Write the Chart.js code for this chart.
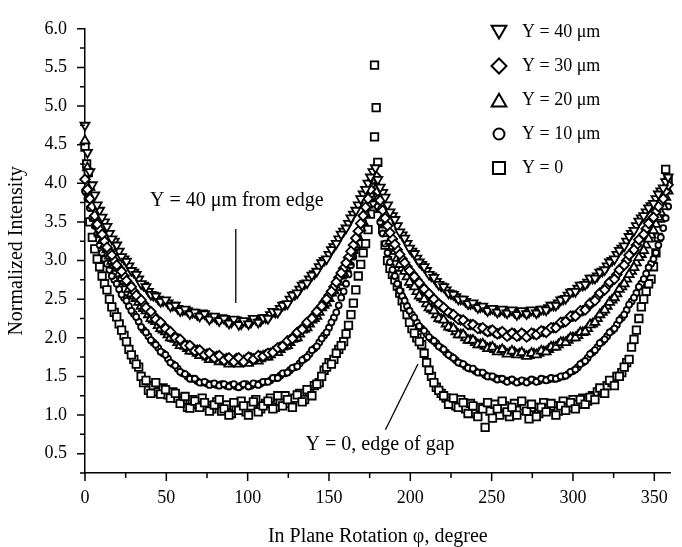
<!DOCTYPE html>
<html>
<head>
<meta charset="utf-8">
<script src="https://cdn.jsdelivr.net/npm/chart.js@4.4.0/dist/chart.umd.min.js"></script>
<style>
  html, body { margin: 0; padding: 0; background: #fff; }
</style>
</head>
<body>
<canvas id="chart" width="682" height="547"></canvas>
<script>
// rotation angle, degree: main grid and the in-between readings
const phi = [
  0, 3, 6, 9, 12, 15, 18, 21, 24, 27,
  30, 33, 36, 39, 42, 45, 48, 51, 54, 57,
  60, 63, 66, 69, 72, 75, 78, 81, 84, 87,
  90, 93, 96, 99, 102, 105, 108, 111, 114, 117,
  120, 123, 126, 129, 132, 135, 138, 141, 144, 147,
  150, 153, 156, 159, 162, 165, 168, 171, 174, 177,
  180, 183, 186, 189, 192, 195, 198, 201, 204, 207,
  210, 213, 216, 219, 222, 225, 228, 231, 234, 237,
  240, 243, 246, 249, 252, 255, 258, 261, 264, 267,
  270, 273, 276, 279, 282, 285, 288, 291, 294, 297,
  300, 303, 306, 309, 312, 315, 318, 321, 324, 327,
  330, 333, 336, 339, 342, 345, 348, 351, 354, 357
];
const phiMid = [
  1.5, 4.5, 7.5, 10.5, 13.5, 16.5, 19.5, 22.5, 25.5, 28.5,
  31.5, 34.5, 37.5, 40.5, 43.5, 46.5, 49.5, 52.5, 55.5, 58.5,
  61.5, 64.5, 67.5, 70.5, 73.5, 76.5, 79.5, 82.5, 85.5, 88.5,
  91.5, 94.5, 97.5, 100.5, 103.5, 106.5, 109.5, 112.5, 115.5, 118.5,
  121.5, 124.5, 127.5, 130.5, 133.5, 136.5, 139.5, 142.5, 145.5, 148.5,
  151.5, 154.5, 157.5, 160.5, 163.5, 166.5, 169.5, 172.5, 175.5, 178.5,
  181.5, 184.5, 187.5, 190.5, 193.5, 196.5, 199.5, 202.5, 205.5, 208.5,
  211.5, 214.5, 217.5, 220.5, 223.5, 226.5, 229.5, 232.5, 235.5, 238.5,
  241.5, 244.5, 247.5, 250.5, 253.5, 256.5, 259.5, 262.5, 265.5, 268.5,
  271.5, 274.5, 277.5, 280.5, 283.5, 286.5, 289.5, 292.5, 295.5, 298.5,
  301.5, 304.5, 307.5, 310.5, 313.5, 316.5, 319.5, 322.5, 325.5, 328.5,
  331.5, 334.5, 337.5, 340.5, 343.5, 346.5, 349.5, 352.5, 355.5, 358.5
];

// Y = 40 um
const y40 = [
  4.75, 4.15, 3.85, 3.65, 3.5, 3.35, 3.25, 3.12, 3.02, 2.93,
  2.85, 2.76, 2.68, 2.6, 2.55, 2.5, 2.48, 2.45, 2.42, 2.38,
  2.36, 2.35, 2.33, 2.3, 2.32, 2.28, 2.27, 2.25, 2.26, 2.22,
  2.2, 2.23, 2.18, 2.21, 2.2, 2.24, 2.22, 2.26, 2.3, 2.33,
  2.38, 2.43, 2.5, 2.56, 2.63, 2.7, 2.76, 2.83, 2.92, 3.0,
  3.08, 3.18, 3.28, 3.38, 3.48, 3.6, 3.72, 3.86, 4.0, 4.15,
  4.05, 3.88, 3.72, 3.58, 3.45, 3.33, 3.22, 3.12, 3.03, 2.95,
  2.87, 2.8, 2.73, 2.67, 2.62, 2.57, 2.53, 2.5, 2.47, 2.44,
  2.42, 2.4, 2.38, 2.37, 2.36, 2.35, 2.34, 2.35, 2.33, 2.32,
  2.34, 2.33, 2.35, 2.34, 2.37, 2.39, 2.42, 2.45, 2.5, 2.55,
  2.6, 2.64, 2.68, 2.72, 2.77, 2.8, 2.86, 2.93, 3.0, 3.08,
  3.16, 3.25, 3.35, 3.45, 3.55, 3.63, 3.71, 3.8, 3.9, 4.02
];
const y40Mid = [
  4.4, 3.98, 3.72, 3.56, 3.44, 3.28, 3.2, 3.05, 2.99, 2.87,
  2.82, 2.7, 2.66, 2.56, 2.54, 2.47, 2.49, 2.41, 2.42, 2.35,
  2.37, 2.31, 2.33, 2.28, 2.31, 2.24, 2.28, 2.22, 2.25, 2.19,
  2.24, 2.17, 2.22, 2.18, 2.25, 2.2, 2.26, 2.25, 2.34, 2.33,
  2.42, 2.44, 2.55, 2.58, 2.68, 2.71, 2.81, 2.86, 2.97, 3.02,
  3.14, 3.22, 3.34, 3.42, 3.55, 3.65, 3.8, 3.92, 4.08, 4.2,
  3.95, 3.82, 3.63, 3.53, 3.37, 3.29, 3.16, 3.09, 2.98, 2.92,
  2.82, 2.78, 2.69, 2.66, 2.58, 2.56, 2.5, 2.5, 2.44, 2.45,
  2.39, 2.41, 2.35, 2.38, 2.33, 2.37, 2.32, 2.36, 2.3, 2.35,
  2.31, 2.36, 2.32, 2.37, 2.36, 2.42, 2.42, 2.49, 2.51, 2.59,
  2.6, 2.68, 2.69, 2.77, 2.77, 2.85, 2.88, 2.98, 3.02, 3.13,
  3.19, 3.31, 3.39, 3.51, 3.58, 3.68, 3.74, 3.86, 3.94, 4.08
];

// Y = 30 um
const y30 = [
  4.05, 3.8, 3.58, 3.4, 3.25, 3.12, 3.0, 2.9, 2.8, 2.7,
  2.6, 2.52, 2.44, 2.36, 2.29, 2.22, 2.16, 2.1, 2.04, 1.99,
  1.94, 1.9, 1.87, 1.84, 1.81, 1.79, 1.77, 1.76, 1.74, 1.73,
  1.71, 1.73, 1.7, 1.72, 1.74, 1.73, 1.76, 1.78, 1.8, 1.84,
  1.88, 1.92, 1.97, 2.03, 2.09, 2.15, 2.22, 2.29, 2.37, 2.46,
  2.55, 2.66, 2.78, 2.9, 3.04, 3.2, 3.38, 3.58, 3.8, 4.05,
  3.9, 3.65, 3.45, 3.28, 3.14, 3.02, 2.92, 2.83, 2.75, 2.67,
  2.6, 2.53, 2.47, 2.41, 2.36, 2.31, 2.27, 2.23, 2.2, 2.17,
  2.15, 2.12, 2.1, 2.09, 2.07, 2.06, 2.05, 2.04, 2.05, 2.03,
  2.04, 2.03, 2.05, 2.06, 2.08, 2.1, 2.13, 2.16, 2.2, 2.24,
  2.28, 2.31, 2.35, 2.4, 2.46, 2.53, 2.6, 2.67, 2.74, 2.82,
  2.91, 3.0, 3.1, 3.2, 3.3, 3.41, 3.52, 3.63, 3.75, 3.9
];
const y30Mid = [
  3.92, 3.7, 3.47, 3.34, 3.17, 3.07, 2.94, 2.86, 2.74, 2.66,
  2.55, 2.49, 2.39, 2.34, 2.24, 2.2, 2.12, 2.08, 2.0, 1.98,
  1.9, 1.9, 1.83, 1.84, 1.78, 1.8, 1.74, 1.77, 1.71, 1.74,
  1.69, 1.74, 1.69, 1.75, 1.72, 1.77, 1.76, 1.8, 1.81, 1.87,
  1.89, 1.96, 1.99, 2.07, 2.11, 2.2, 2.25, 2.34, 2.41, 2.5,
  2.6, 2.72, 2.84, 2.97, 3.12, 3.29, 3.48, 3.69, 3.92, 4.1,
  3.78, 3.55, 3.36, 3.21, 3.08, 2.97, 2.87, 2.79, 2.71, 2.63,
  2.57, 2.5, 2.44, 2.39, 2.33, 2.3, 2.24, 2.23, 2.17, 2.17,
  2.12, 2.13, 2.08, 2.1, 2.05, 2.08, 2.02, 2.06, 2.02, 2.06,
  2.01, 2.06, 2.04, 2.09, 2.07, 2.13, 2.13, 2.2, 2.21, 2.28,
  2.28, 2.35, 2.36, 2.45, 2.48, 2.58, 2.62, 2.72, 2.76, 2.88,
  2.94, 3.07, 3.14, 3.27, 3.34, 3.48, 3.56, 3.7, 3.8, 3.98
];

// Y = 20 um
const y20 = [
  4.55, 3.95, 3.55, 3.35, 3.2, 3.06, 2.94, 2.83, 2.73, 2.63,
  2.54, 2.46, 2.38, 2.3, 2.23, 2.16, 2.1, 2.04, 1.99, 1.94,
  1.9, 1.86, 1.83, 1.8, 1.77, 1.75, 1.73, 1.72, 1.7, 1.69,
  1.68, 1.67, 1.69, 1.68, 1.7, 1.71, 1.73, 1.75, 1.78, 1.81,
  1.85, 1.89, 1.94, 1.99, 2.05, 2.11, 2.18, 2.25, 2.33, 2.42,
  2.51, 2.61, 2.72, 2.84, 2.98, 3.13, 3.3, 3.5, 3.72, 3.98,
  3.8, 3.55, 3.35, 3.18, 3.03, 2.9, 2.79, 2.69, 2.6, 2.52,
  2.44, 2.37, 2.3, 2.24, 2.18, 2.13, 2.08, 2.04, 2.0, 1.97,
  1.94, 1.91, 1.89, 1.87, 1.85, 1.83, 1.82, 1.8, 1.81, 1.79,
  1.78, 1.77, 1.79, 1.8, 1.82, 1.85, 1.88, 1.91, 1.94, 1.97,
  2.0, 2.03, 2.07, 2.12, 2.18, 2.25, 2.33, 2.41, 2.49, 2.57,
  2.66, 2.76, 2.86, 2.97, 3.08, 3.2, 3.33, 3.47, 3.62, 3.82
];
const y20Mid = [
  4.2, 3.73, 3.46, 3.26, 3.14, 2.99, 2.9, 2.77, 2.7, 2.57,
  2.51, 2.41, 2.35, 2.25, 2.21, 2.12, 2.08, 2.0, 1.98, 1.9,
  1.89, 1.83, 1.83, 1.77, 1.77, 1.72, 1.74, 1.69, 1.71, 1.66,
  1.69, 1.66, 1.7, 1.67, 1.72, 1.7, 1.76, 1.75, 1.81, 1.81,
  1.88, 1.9, 1.98, 2.0, 2.1, 2.13, 2.23, 2.28, 2.39, 2.45,
  2.58, 2.65, 2.8, 2.9, 3.07, 3.2, 3.42, 3.6, 3.86, 3.92,
  3.66, 3.46, 3.25, 3.12, 2.95, 2.86, 2.72, 2.66, 2.54, 2.5,
  2.39, 2.35, 2.25, 2.23, 2.14, 2.12, 2.04, 2.04, 1.97, 1.97,
  1.91, 1.92, 1.86, 1.88, 1.82, 1.85, 1.79, 1.83, 1.78, 1.81,
  1.76, 1.8, 1.78, 1.83, 1.82, 1.88, 1.88, 1.94, 1.94, 2.0,
  2.0, 2.07, 2.08, 2.17, 2.2, 2.3, 2.36, 2.46, 2.52, 2.63,
  2.7, 2.82, 2.91, 3.04, 3.13, 3.28, 3.39, 3.56, 3.7, 3.9
];

// Y = 10 um
const y10 = [
  3.9, 3.68, 3.45, 3.2, 3.02, 2.88, 2.75, 2.63, 2.52, 2.41,
  2.31, 2.21, 2.1, 2.02, 1.94, 1.87, 1.8, 1.73, 1.66, 1.6,
  1.54, 1.5, 1.47, 1.44, 1.42, 1.41, 1.4, 1.39, 1.4, 1.38,
  1.39, 1.37, 1.38, 1.4, 1.38, 1.4, 1.41, 1.43, 1.45, 1.48,
  1.51, 1.54, 1.58, 1.62, 1.67, 1.73, 1.79, 1.86, 1.94, 2.03,
  2.13, 2.26, 2.42, 2.6, 2.82, 3.05, 3.3, 3.5, 3.7, 3.88,
  3.7, 3.35, 3.1, 2.88, 2.7, 2.54, 2.41, 2.3, 2.2, 2.12,
  2.05, 1.98, 1.93, 1.87, 1.81, 1.76, 1.71, 1.67, 1.63, 1.6,
  1.57, 1.55, 1.52, 1.5, 1.48, 1.47, 1.45, 1.45, 1.44, 1.43,
  1.44, 1.44, 1.45, 1.44, 1.46, 1.46, 1.47, 1.48, 1.5, 1.53,
  1.57, 1.62, 1.68, 1.74, 1.81, 1.88, 1.95, 2.02, 2.09, 2.17,
  2.26, 2.36, 2.47, 2.58, 2.7, 2.83, 2.96, 3.1, 3.3, 3.55
];
const y10Mid = [
  3.8, 3.55, 3.34, 3.1, 2.96, 2.8, 2.7, 2.56, 2.48, 2.35,
  2.27, 2.14, 2.07, 1.97, 1.91, 1.82, 1.78, 1.68, 1.64, 1.56,
  1.53, 1.47, 1.47, 1.42, 1.43, 1.39, 1.41, 1.38, 1.4, 1.37,
  1.4, 1.36, 1.4, 1.37, 1.41, 1.39, 1.43, 1.43, 1.48, 1.48,
  1.54, 1.55, 1.61, 1.63, 1.71, 1.75, 1.84, 1.89, 1.99, 2.07,
  2.2, 2.33, 2.52, 2.7, 2.94, 3.17, 3.41, 3.62, 3.8, 3.82,
  3.5, 3.22, 2.98, 2.8, 2.61, 2.48, 2.35, 2.26, 2.15, 2.09,
  2.01, 1.96, 1.89, 1.85, 1.78, 1.74, 1.68, 1.66, 1.61, 1.6,
  1.55, 1.55, 1.5, 1.5, 1.46, 1.47, 1.43, 1.46, 1.42, 1.45,
  1.42, 1.46, 1.43, 1.47, 1.45, 1.48, 1.47, 1.5, 1.51, 1.56,
  1.59, 1.66, 1.7, 1.79, 1.84, 1.93, 1.98, 2.07, 2.12, 2.23,
  2.3, 2.43, 2.52, 2.66, 2.76, 2.91, 3.02, 3.2, 3.42, 3.7
];

// Y = 0
const y0 = [
  4.47, 3.5, 3.15, 2.92, 2.7, 2.5, 2.33, 2.18, 2.03, 1.85,
  1.72, 1.62, 1.42, 1.32, 1.38, 1.3, 1.35, 1.26, 1.3, 1.22,
  1.18, 1.1, 1.2, 1.14, 1.22, 1.12, 1.08, 1.17, 1.05, 1.13,
  1.02, 1.1, 1.18, 1.04, 1.12, 1.2, 1.08, 1.15, 1.22, 1.1,
  1.18, 1.25, 1.15, 1.22, 1.28, 1.2, 1.3, 1.38, 1.42, 1.58,
  1.68, 1.72, 1.85, 1.95, 2.16, 2.45, 2.8, 3.1, 3.4, 3.75,
  4.27, 3.4, 3.0, 2.82, 2.67, 2.48, 2.3, 2.12, 2.0, 1.91,
  1.68, 1.5, 1.36, 1.28, 1.22, 1.18, 1.12, 1.2, 1.08, 1.15,
  1.02, 1.1, 0.84, 1.05, 1.14, 1.0, 1.12, 0.98, 1.15, 1.06,
  1.12, 0.95, 1.1, 1.02, 1.16, 1.08, 1.12, 1.05, 1.18, 1.1,
  1.2, 1.14, 1.22, 1.18, 1.25, 1.3, 1.32, 1.38, 1.42, 1.5,
  1.55, 1.68, 1.88, 2.1, 2.4, 2.6, 2.76, 3.1, 3.55, 4.18
];
const y0Mid = [
  3.9, 3.3, 3.02, 2.8, 2.62, 2.4, 2.27, 2.1, 1.95, 1.78,
  1.66, 1.5, 1.45, 1.28, 1.42, 1.27, 1.33, 1.22, 1.28, 1.15,
  1.24, 1.09, 1.18, 1.1, 1.16, 1.05, 1.13, 1.2, 1.08, 1.0,
  1.16, 1.06, 1.12, 1.0, 1.17, 1.04, 1.12, 1.18, 1.08, 1.25,
  1.12, 1.2, 1.1, 1.26, 1.17, 1.33, 1.25, 1.4, 1.5, 1.62,
  1.66, 1.8, 1.9, 2.05, 2.3, 2.62, 2.95, 3.22, 3.6, 3.95,
  3.7, 3.2, 2.9, 2.75, 2.58, 2.4, 2.2, 2.06, 1.95, 1.8,
  1.58, 1.42, 1.32, 1.25, 1.14, 1.22, 1.1, 1.16, 1.02, 1.12,
  0.98, 1.08, 1.16, 0.96, 1.08, 1.18, 1.04, 1.1, 1.0, 1.18,
  1.05, 1.14, 0.98, 1.1, 1.04, 1.15, 1.0, 1.12, 1.06, 1.16,
  1.08, 1.2, 1.14, 1.23, 1.2, 1.35, 1.28, 1.45, 1.38, 1.5,
  1.62, 1.72, 1.98, 2.25, 2.5, 2.7, 2.92, 3.3, 3.9, 4.05
];
// extra Y = 0 points at the edge and the peak
const y0ExtraPhi = [1, 2, 178, 179, 178];
const y0ExtraVal = [4.25, 4.14, 5.53, 4.98, 4.6];

const seriesLabels = ['Y = 40 μm', 'Y = 30 μm', 'Y = 20 μm', 'Y = 10 μm', 'Y = 0'];
const seriesValues = [y40, y30, y20, y10, y0];
const seriesMidValues = [y40Mid, y30Mid, y20Mid, y10Mid, y0Mid];

// axis ticks (labels every second tick)
const xTicks = [0, 25, 50, 75, 100, 125, 150, 175, 200, 225, 250, 275, 300, 325, 350];
const yTicks = [0.25, 0.5, 0.75, 1.0, 1.25, 1.5, 1.75, 2.0, 2.25, 2.5, 2.75, 3.0,
  3.25, 3.5, 3.75, 4.0, 4.25, 4.5, 4.75, 5.0, 5.25, 5.5, 5.75, 6.0];

const markerStyles = [
  { pointStyle: 'triangle', rotation: 180, radius: 5.2, legendRadius: 8.5 },
  { pointStyle: 'rectRot', rotation: 0, radius: 4.8, legendRadius: 7.5 },
  { pointStyle: 'triangle', rotation: 0, radius: 5.2, legendRadius: 8.5 },
  { pointStyle: 'circle', rotation: 0, radius: 3, legendRadius: 5.5 },
  { pointStyle: 'rect', rotation: 0, radius: 5.3, legendRadius: 8.5 }
];

const datasets = seriesLabels.map((label, i) => {
  const pts = phi.map((p, k) => ({ x: p, y: seriesValues[i][k] }));
  phiMid.forEach((p, k) => pts.push({ x: p, y: seriesMidValues[i][k] }));
  if (i === 4) {
    y0ExtraPhi.forEach((p, k) => pts.push({ x: p, y: y0ExtraVal[k] }));
  }
  const s = markerStyles[i];
  return {
    label: label,
    data: pts,
    showLine: false,
    clip: false,
    pointStyle: s.pointStyle,
    pointRotation: s.rotation,
    pointRadius: s.radius,
    pointHoverRadius: s.radius,
    pointBorderWidth: 1.8,
    pointBorderColor: '#000',
    pointBackgroundColor: '#fff'
  };
});

const serif = '"Liberation Serif", "Times New Roman", serif';

// major and minor tick marks
const axisTicks = {
  id: 'axisTicks',
  afterDraw(chart) {
    const { ctx, scales: { x, y } } = chart;
    ctx.save();
    ctx.strokeStyle = '#000';
    ctx.lineWidth = 1.5;
    ctx.beginPath();
    xTicks.forEach(v => {
      const px = x.getPixelForValue(v);
      const len = v % 50 === 0 ? 8 : 5;
      ctx.moveTo(px, x.top);
      ctx.lineTo(px, x.top + len);
    });
    yTicks.forEach(v => {
      const py = y.getPixelForValue(v);
      const len = Math.round(v * 4) % 2 === 0 ? 8 : 5;
      ctx.moveTo(y.right, py);
      ctx.lineTo(y.right - len, py);
    });
    ctx.stroke();
    ctx.restore();
  }
};

// legend in the upper right corner
const legendBox = {
  id: 'legendBox',
  afterDraw(chart) {
    const ctx = chart.ctx;
    ctx.save();
    ctx.font = '18px ' + serif;
    ctx.textBaseline = 'middle';
    seriesLabels.forEach((label, i) => {
      const s = markerStyles[i];
      const cy = 32 + i * 34;
      let dy = 0;
      if (s.pointStyle === 'triangle') dy = s.rotation ? -s.legendRadius / 4 : s.legendRadius / 4;
      ctx.strokeStyle = '#000';
      ctx.fillStyle = '#fff';
      ctx.lineWidth = 2;
      Chart.helpers.drawPoint(ctx, {
        pointStyle: s.pointStyle, rotation: s.rotation,
        radius: s.legendRadius, borderWidth: 2
      }, 499, cy + dy);
      ctx.fillStyle = '#000';
      ctx.fillText(label, 522, cy);
    });
    ctx.restore();
  }
};

// text notes with pointer lines
const notes = {
  id: 'notes',
  afterDatasetsDraw(chart) {
    const { ctx, scales: { x, y } } = chart;
    ctx.save();
    ctx.strokeStyle = '#000';
    ctx.lineWidth = 1.3;
    ctx.beginPath();
    ctx.moveTo(x.getPixelForValue(92.7), y.getPixelForValue(3.41));
    ctx.lineTo(x.getPixelForValue(92.7), y.getPixelForValue(2.45));
    ctx.moveTo(x.getPixelForValue(184.7), y.getPixelForValue(0.81));
    ctx.lineTo(x.getPixelForValue(204.7), y.getPixelForValue(1.66));
    ctx.stroke();
    ctx.font = '20px ' + serif;
    ctx.fillStyle = '#000';
    ctx.textAlign = 'center';
    ctx.textBaseline = 'middle';
    ctx.fillText('Y = 40 μm from edge', x.getPixelForValue(93.3), y.getPixelForValue(3.78));
    ctx.fillText('Y = 0, edge of gap', x.getPixelForValue(181.4), y.getPixelForValue(0.62));
    ctx.restore();
  }
};

new Chart(document.getElementById('chart').getContext('2d'), {
  type: 'scatter',
  data: { datasets: datasets },
  options: {
    responsive: false,
    animation: false,
    layout: { padding: { left: 0, right: 3, top: 16, bottom: 0 } },
    plugins: {
      legend: { display: false },
      tooltip: { enabled: false }
    },
    scales: {
      x: {
        type: 'linear',
        min: 0,
        max: 360,
        afterFit: (axis) => { axis.height = 74; },
        afterBuildTicks: (axis) => { axis.ticks = xTicks.map(v => ({ value: v })); },
        ticks: {
          autoSkip: false,
          maxRotation: 0,
          padding: 14,
          color: '#000',
          font: { family: serif, size: 18 },
          callback: (v) => (v % 50 === 0 ? String(v) : '')
        },
        grid: { display: true, drawOnChartArea: false, drawTicks: false },
        border: { display: true, color: '#000', width: 1.5 },
        title: {
          display: true,
          text: 'In Plane Rotation φ, degree',
          color: '#000',
          font: { family: serif, size: 20, lineHeight: 1 },
          padding: { top: 0, bottom: 0 }
        }
      },
      y: {
        type: 'linear',
        min: 0.25,
        max: 6.0,
        afterFit: (axis) => { axis.width = 85; },
        afterBuildTicks: (axis) => { axis.ticks = yTicks.map(v => ({ value: v })); },
        ticks: {
          autoSkip: false,
          padding: 18,
          color: '#000',
          font: { family: serif, size: 18 },
          callback: (v) => (Math.round(v * 4) % 2 === 0 ? v.toFixed(1) : '')
        },
        grid: { display: true, drawOnChartArea: false, drawTicks: false },
        border: { display: true, color: '#000', width: 1.5 },
        title: {
          display: true,
          text: 'Normalized Intensity',
          color: '#000',
          font: { family: serif, size: 20, lineHeight: 1 },
          padding: { top: 7, bottom: 0 }
        }
      }
    }
  },
  plugins: [axisTicks, notes, legendBox]
});
</script>
</body>
</html>
